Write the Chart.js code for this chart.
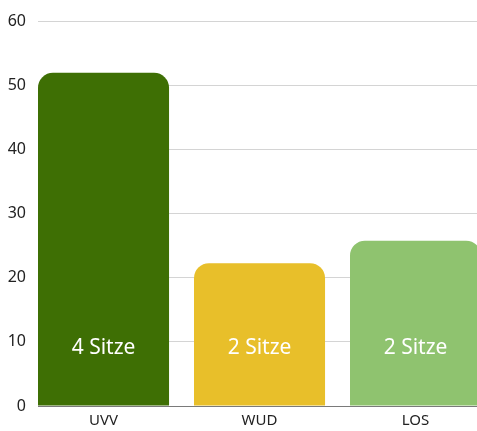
<!DOCTYPE html>
<html>
<head>
<meta charset="utf-8">
<script src="https://cdn.jsdelivr.net/npm/chart.js@4/dist/chart.umd.min.js"></script>
<style>
  html, body { margin: 0; padding: 0; background: #fff; overflow: hidden; }
  #wrap { position: relative; width: 477px; height: 431px; }
</style>
</head>
<body>
<div id="wrap"><canvas id="sitze"></canvas></div>
<script>
const parteien = ['UVV', 'WUD', 'LOS'];
const stimmen = [52, 22.3, 25.8];
const sitze = ['4 Sitze', '2 Sitze', '2 Sitze'];
const farben = ['#3e6f04', '#e8bf2a', '#8fc36f'];
const yTicks = [0, 10, 20, 30, 40, 50, 60];

const schrift = '"Noto Sans", "Open Sans", sans-serif';

// Text "x Sitze" unten in jeden Balken
const sitzLabels = {
    id: 'sitzLabels',
    afterDatasetsDraw(chart) {
        const ctx = chart.ctx;
        const meta = chart.getDatasetMeta(0);
        const y = chart.scales.y.getPixelForValue(9.0);
        ctx.save();
        ctx.fillStyle = '#ffffff';
        ctx.font = '21px ' + schrift;
        ctx.textAlign = 'center';
        ctx.textBaseline = 'middle';
        meta.data.forEach(function(bar, i) {
            ctx.fillText(sitze[i], bar.x, y);
        });
        ctx.restore();
    }
};

document.addEventListener('DOMContentLoaded', function() {
    const ctx = document.getElementById('sitze');

    new Chart(ctx, {
        type: 'bar',
        data: {
            datasets: [{
                data: stimmen.map(function(v, i) { return { x: i, y: v }; }),
                backgroundColor: farben,
                borderRadius: { topLeft: 15, topRight: 15 },
                borderSkipped: 'bottom',
                categoryPercentage: 1,
                barPercentage: 0.84
            }]
        },
        options: {
            responsive: true,
            maintainAspectRatio: false,
            animation: false,
            layout: {
                padding: { top: 4, right: 0, bottom: 0, left: 0 }
            },
            plugins: {
                legend: { display: false },
                tooltip: { enabled: false }
            },
            scales: {
                x: {
                    type: 'linear',
                    offset: false,
                    min: -0.42,
                    max: 2.394,
                    grid: { display: false, drawTicks: false },
                    border: { display: true, color: '#7a7a7a', width: 1 },
                    afterBuildTicks: function(axis) {
                        axis.ticks = parteien.map(function(p, i) { return { value: i }; });
                    },
                    afterFit: function(axis) { axis.height = 25; },
                    ticks: {
                        color: '#222',
                        font: { family: schrift, size: 15 },
                        padding: 6,
                        maxRotation: 0,
                        callback: function(value) {
                            return parteien[value];
                        }
                    }
                },
                y: {
                    min: 0,
                    max: 60,
                    afterBuildTicks: function(axis) {
                        axis.ticks = yTicks.map(function(v) { return { value: v }; });
                    },
                    afterFit: function(axis) { axis.width = 38; },
                    grid: { color: '#d4d4d4', drawTicks: false },
                    border: { display: false },
                    ticks: {
                        color: '#222',
                        font: { family: schrift, size: 16 },
                        padding: 12
                    }
                }
            }
        },
        plugins: [sitzLabels]
    });
});
</script>
</body>
</html>
